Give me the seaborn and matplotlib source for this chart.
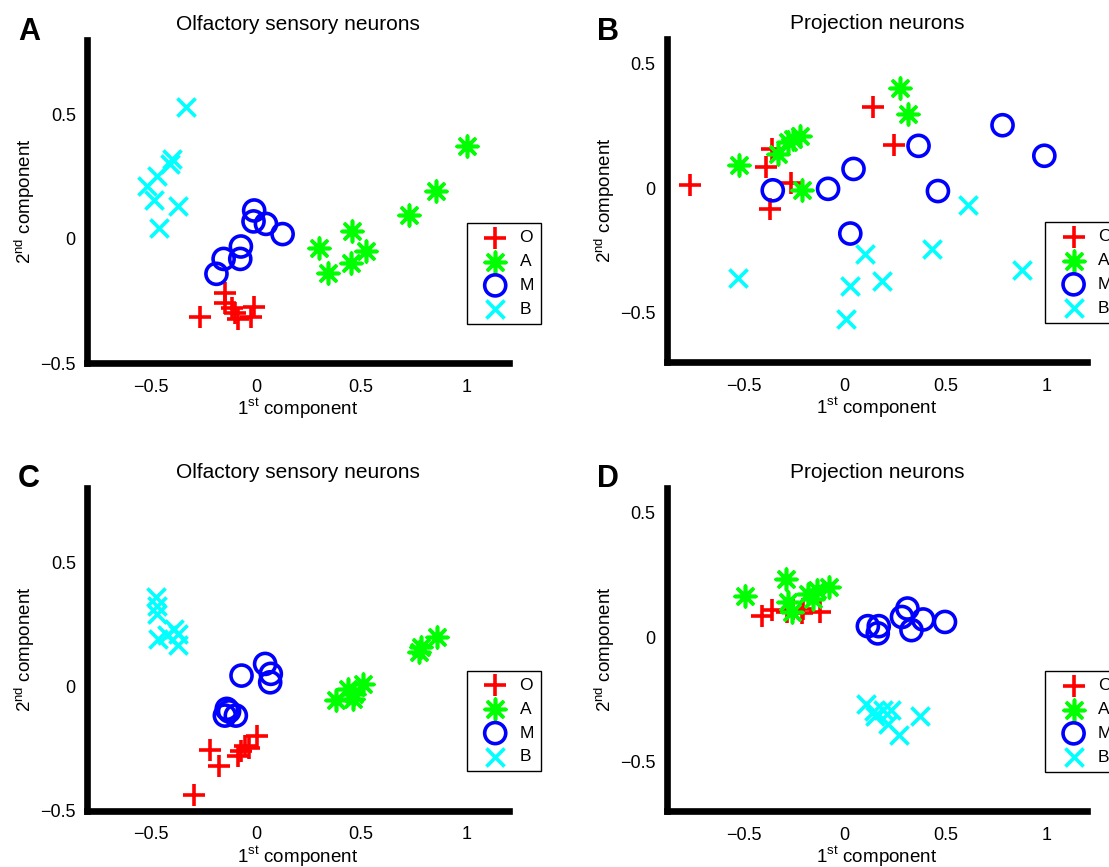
import matplotlib.pyplot as plt
from matplotlib.markers import MarkerStyle
import seaborn as sns

# groups and colours (MATLAB style)
groups = ["O", "A", "M", "B"]
colors = {"O": "#ff0000", "A": "#00ff00", "M": "#0000ff", "B": "#00ffff"}
xtick_vals = [-0.5, 0, 0.5, 1]
xtick_labels = ["\u22120.5", "0", "0.5", "1"]
ytick_vals = [-0.5, 0, 0.5]
ytick_labels = ["\u22120.5", "0", "0.5"]

# A: olfactory sensory neurons
a_O_x = [-0.266, -0.147, -0.147, -0.111, -0.100, -0.087, -0.008, -0.024]
a_O_y = [-0.313, -0.219, -0.257, -0.280, -0.300, -0.324, -0.273, -0.316]
a_A_x = [1.002, 0.857, 0.728, 0.455, 0.523, 0.298, 0.451, 0.341]
a_A_y = [0.375, 0.191, 0.097, 0.030, -0.051, -0.038, -0.098, -0.138]
a_M_x = [-0.008, -0.011, 0.048, 0.127, -0.071, -0.074, -0.153, -0.187]
a_M_y = [0.114, 0.070, 0.060, 0.019, -0.031, -0.081, -0.081, -0.141]
a_B_x = [-0.333, -0.400, -0.407, -0.470, -0.518, -0.483, -0.369, -0.459]
a_B_y = [0.531, 0.321, 0.302, 0.251, 0.214, 0.157, 0.133, 0.043]

# B: projection neurons
b_O_x = [-0.766, -0.389, -0.361, -0.267, -0.372, 0.139, 0.243]
b_O_y = [0.013, 0.084, 0.157, 0.021, -0.085, 0.328, 0.173]
b_A_x = [-0.525, -0.328, -0.279, -0.254, -0.221, -0.213, 0.274, 0.316]
b_A_y = [0.091, 0.137, 0.184, 0.197, 0.211, -0.007, 0.404, 0.297]
b_M_x = [-0.356, -0.082, 0.044, 0.028, 0.366, 0.782, 0.989, 0.462]
b_M_y = [-0.009, -0.003, 0.077, -0.183, 0.170, 0.253, 0.130, -0.012]
b_B_x = [-0.530, 0.028, 0.008, 0.103, 0.183, 0.431, 0.611, 0.876]
b_B_y = [-0.363, -0.396, -0.529, -0.267, -0.376, -0.247, -0.070, -0.330]

# C: olfactory sensory neurons
c_O_x = [0.005, -0.032, -0.052, -0.087, -0.216, -0.174, -0.292, -0.071]
c_O_y = [-0.198, -0.248, -0.238, -0.281, -0.257, -0.321, -0.435, -0.258]
c_A_x = [0.860, 0.784, 0.776, 0.507, 0.436, 0.467, 0.459, 0.380]
c_A_y = [0.199, 0.159, 0.138, 0.011, -0.009, -0.029, -0.050, -0.054]
c_M_x = [-0.068, 0.044, 0.071, 0.068, -0.138, -0.095, -0.147, -0.127]
c_M_y = [0.044, 0.091, 0.051, 0.017, -0.090, -0.117, -0.117, -0.100]
c_B_x = [-0.475, -0.470, -0.467, -0.388, -0.369, -0.464, -0.423, -0.369]
c_B_y = [0.360, 0.323, 0.293, 0.233, 0.212, 0.192, 0.206, 0.169]

# D: projection neurons
d_O_x = [-0.410, -0.361, -0.287, -0.213, -0.205, -0.123, -0.254]
d_O_y = [0.084, 0.108, 0.101, 0.095, 0.115, 0.101, 0.115]
d_A_x = [-0.492, -0.292, -0.077, -0.139, -0.180, -0.156, -0.279, -0.262]
d_A_y = [0.164, 0.232, 0.201, 0.188, 0.175, 0.155, 0.141, 0.101]
d_M_x = [0.115, 0.169, 0.164, 0.311, 0.284, 0.389, 0.331, 0.497]
d_M_y = [0.044, 0.044, 0.015, 0.115, 0.081, 0.071, 0.028, 0.061]
d_B_x = [0.107, 0.148, 0.189, 0.230, 0.213, 0.271, 0.372, 0.143]
d_B_y = [-0.268, -0.316, -0.292, -0.295, -0.348, -0.396, -0.316, -0.299]

sns.set_style("white")
plt.rcParams["font.family"] = ["Liberation Sans", "DejaVu Sans"]
plt.rcParams["mathtext.fontset"] = "custom"
plt.rcParams["mathtext.rm"] = "Liberation Sans"
plt.rcParams["text.color"] = "black"
plt.rcParams["axes.labelcolor"] = "black"
plt.rcParams["xtick.color"] = "black"
plt.rcParams["ytick.color"] = "black"

markers = {
    "O": "+",
    "A": MarkerStyle((8, 2, 0)),
    "M": MarkerStyle("o", fillstyle="none"),
    "B": "x",
}
sizes = {"O": 240, "A": 220, "M": 230, "B": 170}


def draw_panel(ax, data, title, xlim, ylim):
    for g in groups:
        xs, ys = data[g]
        sns.scatterplot(x=xs, y=ys, ax=ax, marker=markers[g], color=colors[g],
                        s=sizes[g], linewidth=2.6, label=g, legend=False)
    ax.set_xlim(xlim)
    ax.set_ylim(ylim)
    ax.set_xticks(xtick_vals, xtick_labels)
    ax.set_yticks(ytick_vals, ytick_labels)
    ax.set_title(title, fontsize=15, pad=7)
    ax.set_xlabel(r"1$^{\mathrm{st}}$ component", fontsize=13.5, labelpad=1)
    ax.set_ylabel(r"2$^{\mathrm{nd}}$ component", fontsize=13.5, labelpad=2)
    sns.despine(ax=ax)
    for side in ["left", "bottom"]:
        ax.spines[side].set_linewidth(4.8)
        ax.spines[side].set_color("black")
    ax.tick_params(axis="both", direction="out", length=6.3, width=4.3,
                   labelsize=13, color="black")
    ax.tick_params(axis="x", pad=5)
    ax.tick_params(axis="y", pad=2)
    leg = ax.legend(loc="upper left", bbox_to_anchor=(0.9, 0.433), borderaxespad=0,
                    fancybox=False, framealpha=1, edgecolor="black", fontsize=12.5,
                    scatterpoints=1, handletextpad=0.15, labelspacing=0.5,
                    borderpad=0.4, handlelength=2.5)
    leg.get_frame().set_linewidth(1.0)


fig = plt.figure(figsize=(11.09, 8.67), dpi=100)
ax_a = fig.add_axes([0.0787, 0.5813, 0.380, 0.3725])
ax_b = fig.add_axes([0.6014, 0.5825, 0.3787, 0.3725])
ax_c = fig.add_axes([0.0787, 0.0649, 0.380, 0.3725])
ax_d = fig.add_axes([0.6014, 0.0646, 0.3787, 0.3725])

draw_panel(ax_a, {"O": (a_O_x, a_O_y), "A": (a_A_x, a_A_y), "M": (a_M_x, a_M_y), "B": (a_B_x, a_B_y)},
           "Olfactory sensory neurons", (-0.8, 1.2), (-0.5, 0.8))
draw_panel(ax_b, {"O": (b_O_x, b_O_y), "A": (b_A_x, b_A_y), "M": (b_M_x, b_M_y), "B": (b_B_x, b_B_y)},
           "Projection neurons", (-0.88, 1.2), (-0.7, 0.6))
draw_panel(ax_c, {"O": (c_O_x, c_O_y), "A": (c_A_x, c_A_y), "M": (c_M_x, c_M_y), "B": (c_B_x, c_B_y)},
           "Olfactory sensory neurons", (-0.8, 1.2), (-0.5, 0.8))
draw_panel(ax_d, {"O": (d_O_x, d_O_y), "A": (d_A_x, d_A_y), "M": (d_M_x, d_M_y), "B": (d_B_x, d_B_y)},
           "Projection neurons", (-0.88, 1.2), (-0.7, 0.6))

# panel letters
for letter, x, y in [("A", 0.0162, 0.9539), ("B", 0.5383, 0.9539),
                     ("C", 0.0162, 0.4383), ("D", 0.5383, 0.4383)]:
    fig.text(x, y, letter, fontsize=22, fontweight="bold", va="baseline")

fig.savefig("out.png", dpi=100)
